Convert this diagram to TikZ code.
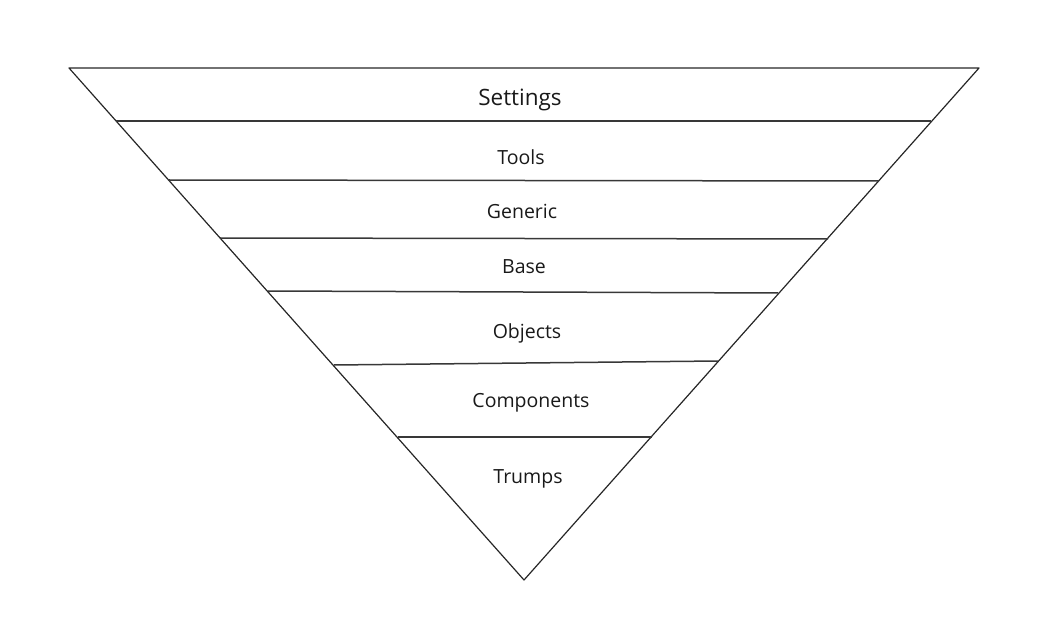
\documentclass[tikz,border=0pt]{standalone}
\usepackage{fontspec}
\setmainfont{Open Sans}
\begin{document}
\begin{tikzpicture}[x=1pt,y=-1pt,
  edge/.style={draw=black!85,line width=1.2pt,line join=round},
  sep/.style={draw=black!78,line width=1.5pt},
  lbl/.style={font=\fontsize{19.5}{22}\selectfont,text=black!90,inner sep=0pt},
  biglbl/.style={font=\fontsize{22.5}{25}\selectfont,text=black!90,inner sep=0pt}]
\useasboundingbox (0,0) rectangle (1053,631);
\coordinate (tl) at (69,68);
\coordinate (tr) at (979,68);
\coordinate (ap) at (524,580);
\draw[edge] (tl) -- (tr) -- (ap) -- cycle;
% separators
\coordinate (l1) at (116,121); \coordinate (r1) at (931,121);
\coordinate (l2) at (169,180); \coordinate (r2) at (879,181);
\coordinate (l3) at (220,238); \coordinate (r3) at (828,239);
\coordinate (l4) at (268,291); \coordinate (r4) at (778,293);
\coordinate (l5) at (334,365); \coordinate (r5) at (718,361);
\coordinate (l6) at (398,437); \coordinate (r6) at (652,437);
\draw[sep] (l1) -- (r1);
\draw[sep] (l2) -- (r2);
\draw[sep] (l3) -- (r3);
\draw[sep] (l4) -- (r4);
\draw[sep] (l5) -- (r5);
\draw[sep] (l6) -- (r6);
\node[biglbl] (settings) at (520,100) {Settings};
\node[lbl] (tools) at (521,157) {Tools};
\node[lbl] (generic) at (522,211) {Generic};
\node[lbl] (base) at (524,267) {Base};
\node[lbl] (objects) at (527,333) {Objects};
\node[lbl] (components) at (531,403) {Components};
\node[lbl] (trumps) at (528,479) {Trumps};
\end{tikzpicture}
\end{document}
